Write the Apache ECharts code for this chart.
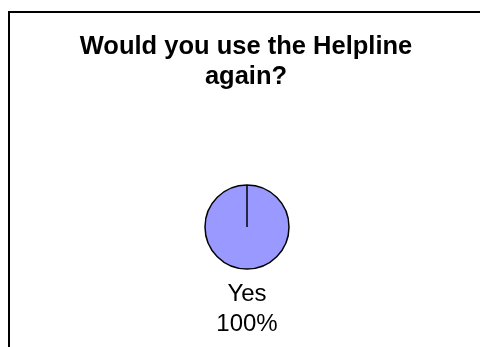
<!DOCTYPE html>
<html>
<head>
<meta charset="utf-8">
<script src="https://cdn.jsdelivr.net/npm/echarts@6/dist/echarts.min.js"></script>
<style>
  html, body { margin: 0; padding: 0; background: #fff; }
  #chart { width: 480px; height: 347px; }
</style>
</head>
<body>
<div id="chart"></div>
<script>
// Survey answers for "Would you use the Helpline again?"
const categories = ['Yes'];
const responses = [100];
const titleText = 'Would you use the Helpline\nagain?';

// Pie layout
const pieCenter = [247, 227];
const pieRadius = 42;
const labelGap = 40;

const chart = echarts.init(document.getElementById('chart'), null, { renderer: 'canvas' });

chart.setOption({
  backgroundColor: '#ffffff',
  animation: false,
  title: {
    text: titleText,
    left: 241,
    textAlign: 'center',
    top: 27,
    textStyle: {
      fontFamily: 'Liberation Sans, Arial, sans-serif',
      fontSize: 25.5,
      fontWeight: 'bold',
      lineHeight: 30,
      color: '#000000'
    }
  },
  graphic: [
    {
      // chart frame
      type: 'rect',
      shape: { x: 9, y: 12, width: 520, height: 400 },
      style: { fill: 'none', stroke: '#000000', lineWidth: 2 },
      silent: true
    },
    {
      // slice edge from the centre to the start angle
      type: 'line',
      shape: {
        x1: pieCenter[0], y1: pieCenter[1],
        x2: pieCenter[0], y2: pieCenter[1] - pieRadius
      },
      style: { stroke: '#000000', lineWidth: 1.5 },
      z: 10,
      silent: true
    }
  ],
  series: [{
    type: 'pie',
    center: pieCenter,
    radius: pieRadius,
    startAngle: 90,
    clockwise: true,
    data: categories.map((name, i) => ({ name, value: responses[i] })),
    itemStyle: {
      color: '#9999FF',
      borderColor: '#000000',
      borderWidth: 1.5
    },
    label: {
      show: true,
      position: 'outside',
      formatter: p => p.name + '\n' + Math.round(p.percent) + '%',
      fontFamily: 'Liberation Sans, Arial, sans-serif',
      fontSize: 24,
      lineHeight: 30,
      color: '#000000'
    },
    labelLine: { show: false, length: labelGap, length2: 0 },
    labelLayout: () => ({
      x: pieCenter[0],
      y: pieCenter[1] + pieRadius + labelGap,
      align: 'center',
      verticalAlign: 'middle'
    }),
    emphasis: { disabled: true }
  }]
});
</script>
</body>
</html>
